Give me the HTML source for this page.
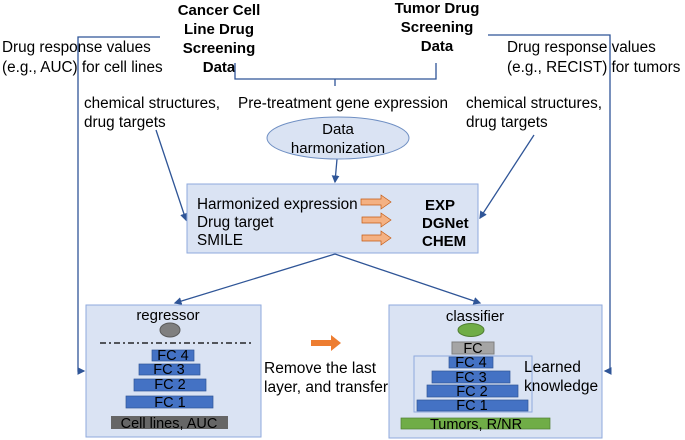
<!DOCTYPE html>
<html><head><meta charset="utf-8"><style>
html,body{margin:0;padding:0;background:#fff}
svg{display:block}
text{font-family:"Liberation Sans",sans-serif;fill:#000}
</style></head><body>
<svg width="685" height="440" viewBox="0 0 685 440" xmlns="http://www.w3.org/2000/svg">
<defs><marker id="a" markerWidth="6" markerHeight="6" refX="5" refY="3" orient="auto"><path d="M0,0 L6,3 L0,6 z" fill="#2f5597"/></marker></defs>
<g font-weight="bold" font-size="15" text-anchor="middle">
<text x="219" y="15">Cancer Cell</text><text x="219" y="34">Line Drug</text><text x="219" y="53">Screening</text><text x="219" y="72">Data</text>
<text x="437" y="13">Tumor Drug</text><text x="437" y="32">Screening</text><text x="437" y="51">Data</text>
</g>
<g font-size="15.3">
<text x="2" y="52">Drug response values</text><text x="2" y="72">(e.g., AUC) for cell lines</text>
<text x="507" y="52">Drug response values</text><text x="507" y="72">(e.g., RECIST) for tumors</text>
</g>
<g font-size="15.3">
<text x="84" y="108">chemical structures,</text><text x="84" y="127">drug targets</text>
<text x="238" y="108">Pre-treatment gene expression</text>
<text x="466" y="108">chemical structures,</text><text x="466" y="127">drug targets</text>
</g>
<g stroke="#2f5597" stroke-width="1.3" fill="none">
<polyline points="160,37 78,37 78,371 84,371" marker-end="url(#a)"/>
<polyline points="488,35 610,35 610,371 605,371" marker-end="url(#a)"/>
<polyline points="235,63 235,79 436,79 436,63"/>
<line x1="335" y1="79" x2="335" y2="86"/>
<line x1="337" y1="159" x2="335" y2="182" marker-end="url(#a)"/>
<line x1="156" y1="130" x2="186" y2="220" marker-end="url(#a)"/>
<line x1="534" y1="135" x2="480" y2="218" marker-end="url(#a)"/>
<line x1="335" y1="254" x2="175" y2="303" marker-end="url(#a)"/>
<line x1="335" y1="254" x2="480" y2="303" marker-end="url(#a)"/>
</g>
<ellipse cx="338" cy="138" rx="71" ry="21" fill="#dae3f3" stroke="#6f8fc3"/>
<g font-size="15" text-anchor="middle"><text x="338" y="134">Data</text><text x="338" y="153">harmonization</text></g>
<rect x="187" y="184" width="291" height="69" fill="#dae3f3" stroke="#8faadc"/>
<g font-size="15.3"><text x="197" y="209">Harmonized expression</text><text x="197" y="227">Drug target</text><text x="197" y="245">SMILE</text></g>
<g font-size="15" font-weight="bold"><text x="425" y="210">EXP</text><text x="422" y="228">DGNet</text><text x="422" y="246">CHEM</text></g>
<g fill="#f4b183" stroke="#c55a11" stroke-width="0.7">
<path d="M361,199 h20 v-4 l10,7 l-10,7 v-4 h-20z"/>
<path d="M362,217 h19 v-4 l10,7 l-10,7 v-4 h-19z"/>
<path d="M362,235 h19 v-4 l10,7 l-10,7 v-4 h-19z"/>
</g>
<rect x="86" y="305" width="175" height="132" fill="#dae3f3" stroke="#8faadc"/>
<rect x="389" y="305" width="213" height="133" fill="#dae3f3" stroke="#8faadc"/>
<text x="168" y="320" font-size="15" text-anchor="middle">regressor</text>
<ellipse cx="170" cy="330" rx="10" ry="7" fill="#7f7f7f" stroke="#5a5a5a"/>
<line x1="100" y1="343" x2="252" y2="343" stroke="#000" stroke-width="1.3" stroke-dasharray="6,3,2,3"/>
<g fill="#4472c4" stroke="#2f5597" stroke-width="0.7">
<rect x="152" y="350" width="42" height="11"/><rect x="139" y="364" width="61" height="11"/><rect x="134" y="379" width="72" height="12"/><rect x="126" y="396" width="87" height="12"/>
<rect x="449" y="357" width="44" height="11"/><rect x="432" y="371" width="78" height="12"/><rect x="427" y="385" width="91" height="12"/><rect x="417" y="400" width="111" height="11"/>
</g>
<rect x="111" y="416" width="117" height="13" fill="#666"/>
<g font-size="14.5" text-anchor="middle">
<text x="173" y="360" fill="#fff">FC 4</text><text x="169" y="374" fill="#fff">FC 3</text><text x="170" y="389" fill="#fff">FC 2</text><text x="170" y="407" fill="#fff">FC 1</text>
<text x="169" y="428" fill="#fff">Cell lines, AUC</text>
</g>
<path d="M311,340 h20 v-5 l10,8 l-10,8 v-5 h-20z" fill="#ed7d31"/>
<g font-size="15.5"><text x="264" y="373">Remove the last</text><text x="264" y="392">layer, and transfer</text>
<text x="524" y="372">Learned</text><text x="524" y="391">knowledge</text></g>
<text x="475" y="321" font-size="15" text-anchor="middle">classifier</text>
<ellipse cx="471" cy="330" rx="13" ry="6.5" fill="#70ad47" stroke="#507e32"/>
<rect x="452" y="342" width="42" height="12" fill="#a5a5a5" stroke="#7f7f7f"/>
<rect x="414" y="356" width="118" height="56" fill="none" stroke="#8faadc"/>
<rect x="401" y="418" width="149" height="11" fill="#70ad47" stroke="#507e32" stroke-width="0.7"/>
<g font-size="14.5" text-anchor="middle">
<text x="473" y="353" fill="#fff">FC</text>
<text x="471" y="367" fill="#fff">FC 4</text><text x="471" y="382" fill="#fff">FC 3</text><text x="472" y="396" fill="#fff">FC 2</text><text x="472" y="410" fill="#fff">FC 1</text>
<text x="476" y="429" fill="#fff">Tumors, R/NR</text>
</g>
</svg>
</body></html>
